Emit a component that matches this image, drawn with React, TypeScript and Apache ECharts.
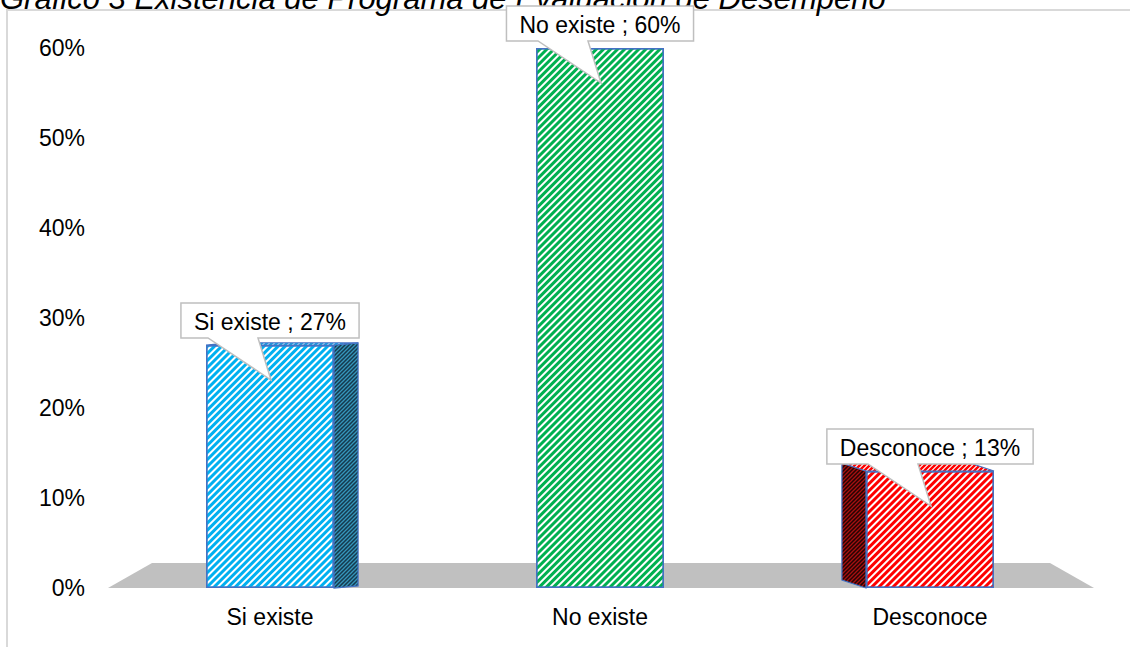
import React, { useEffect, useRef } from "react";
import * as echarts from "echarts";

const TITLE = "Gráfico 3 Existencia de Programa de Evaluación de Desempeño";
const categories = ["Si existe", "No existe", "Desconoce"];
const values = [27, 60, 13]; // percent
const stripeColors = ["#00b0f0", "#00b050", "#ff0000"];
const sideBase = ["#163a4e", "#14502c", "#240404"];
const sideStripe = ["#3596bb", "#2aa860", "#a81010"];
const yMin = 0;
const yMax = 60;
const yStep = 10;

const FONT = '"Liberation Sans", Arial, sans-serif';
const FS = 23;
const BAR_W = 128;
const EDGE = "#4472c4";

function measure(text: string, font: string): number {
  const c = document.createElement("canvas").getContext("2d");
  if (!c) return text.length * FS * 0.5;
  c.font = font;
  return c.measureText(text).width;
}

function stripePattern(bg: string, fg: string, n: number, lw: number): any {
  const cv = document.createElement("canvas");
  cv.width = n;
  cv.height = n;
  const ctx = cv.getContext("2d");
  if (!ctx) return bg;
  ctx.fillStyle = bg;
  ctx.fillRect(0, 0, n, n);
  ctx.strokeStyle = fg;
  ctx.lineWidth = lw;
  // lines x + y = c for c in {0, n, 2n}
  ctx.beginPath();
  for (let c = 0; c <= 2 * n; c += n) {
    ctx.moveTo(c + 2, -2);
    ctx.lineTo(c - n - 2, n + 2);
  }
  ctx.stroke();
  return { image: cv, repeat: "repeat", imageWidth: n, imageHeight: n };
}

export default function App() {
  const ref = useRef<HTMLDivElement>(null);
  useEffect(() => {
    document.body.style.margin = "0";
    if (!ref.current) return;
    const chart = echarts.init(ref.current, null, { renderer: "svg" });
    const data3 = values.map((v, i) => [i, v]);
    const sidePatterns = values.map((_, i) => stripePattern(sideBase[i], sideStripe[i], 4, 1.3));
    const topPatterns = values.map((_, i) => stripePattern("#ffffff", stripeColors[i], 5, 2.4));

    const option: any = {
      animation: false,
      backgroundColor: "#ffffff",
      aria: { enabled: true, label: { enabled: false }, decal: { show: true } },
      grid: { left: 105, right: 35, top: 48, bottom: 59, containLabel: false },
      xAxis: {
        type: "category",
        data: categories,
        axisLine: { show: false },
        axisTick: { show: false },
        axisLabel: { fontSize: FS, color: "#000", fontFamily: FONT, margin: 17 },
        splitLine: { show: false },
      },
      yAxis: {
        type: "value",
        min: yMin,
        max: yMax,
        interval: yStep,
        axisLine: { show: false },
        axisTick: { show: false },
        splitLine: { show: false },
        axisLabel: {
          fontSize: FS,
          color: "#000",
          fontFamily: FONT,
          margin: 20,
          formatter: (v: number) => `${v}%`,
        },
      },
      graphic: [
        {
          type: "rect",
          z: -10,
          shape: { x: 7, y: 10, width: 1300, height: 800 },
          style: { fill: "none", stroke: "#d9d9d9", lineWidth: 2 },
        },
        {
          type: "text",
          z: 0,
          x: 0,
          y: 14,
          style: {
            text: TITLE,
            font: `italic 31px ${FONT}`,
            fill: "#000",
            verticalAlign: "bottom",
          },
        },
      ],
      series: [
        {
          // floor
          type: "custom",
          z: 1,
          silent: true,
          data: [[0, 0]],
          renderItem: (params: any, api: any) => {
            const cs = params.coordSys;
            const yb = api.coord([0, 0])[1];
            const x0 = cs.x;
            const x1 = cs.x + cs.width;
            return {
              type: "polygon",
              shape: {
                points: [
                  [x0 + 3, yb],
                  [x0 + 47, yb - 25],
                  [x1 - 45, yb - 25],
                  [x1 - 1, yb],
                ],
              },
              style: { fill: "#c0c0c0", stroke: "none" },
            };
          },
        },
        {
          // 3D side and top faces
          type: "custom",
          z: 2,
          silent: true,
          data: data3,
          encode: { x: 0, y: 1 },
          renderItem: (params: any, api: any) => {
            const i = api.value(0);
            const v = api.value(1);
            const cs = params.coordSys;
            const midX = cs.x + cs.width / 2;
            const [cx, top] = api.coord([i, v]);
            const bottom = api.coord([i, 0])[1];
            const hw = BAR_W / 2;
            const dx = -(cx - midX) * 0.073;
            const dy = -5 - (cx - midX) * 0.009;
            if (Math.abs(dx) < 2) return { type: "group", children: [] };
            const sx = dx > 0 ? cx + hw : cx - hw;
            return {
              type: "group",
              children: [
                {
                  type: "polygon",
                  shape: {
                    points: [
                      [sx, top],
                      [sx + dx, top + dy],
                      [sx + dx, bottom + dy],
                      [sx, bottom],
                    ],
                  },
                  style: { fill: sidePatterns[i], stroke: EDGE, lineWidth: 1.2 },
                },
                {
                  type: "polygon",
                  shape: {
                    points: [
                      [cx - hw, top],
                      [cx + hw, top],
                      [cx + hw + dx, top + dy],
                      [cx - hw + dx, top + dy],
                    ],
                  },
                  style: { fill: topPatterns[i], stroke: EDGE, lineWidth: 1.2 },
                },
              ],
            };
          },
        },
        {
          type: "bar",
          z: 3,
          barWidth: BAR_W,
          data: values.map((v, i) => ({
            value: v,
            itemStyle: {
              color: "#ffffff",
              borderColor: EDGE,
              borderWidth: 1.5,
              decal: {
                symbol: "rect",
                symbolSize: 1,
                dashArrayX: [1, 0],
                dashArrayY: [3, 2],
                rotation: -Math.PI / 4,
                color: stripeColors[i],
              },
            },
          })),
        },
        {
          // callout labels
          type: "custom",
          z: 10,
          silent: true,
          data: data3,
          encode: { x: 0, y: 1 },
          renderItem: (params: any, api: any) => {
            const i = api.value(0);
            const v = api.value(1);
            const [cx, top] = api.coord([i, v]);
            const text = `${categories[i]} ; ${v}%`;
            const tw = measure(text, `${FS}px ${FONT}`);
            const w = tw + 26;
            const h = 35;
            const B = top - 7;
            const T = B - h;
            const L = cx - w / 2;
            const R = cx + w / 2;
            return {
              type: "group",
              children: [
                {
                  type: "polygon",
                  shape: {
                    points: [
                      [L, T],
                      [R, T],
                      [R, B],
                      [cx - 12, B],
                      [cx + 1, top + 35],
                      [cx - 62, B],
                      [L, B],
                    ],
                  },
                  style: { fill: "#ffffff", stroke: "#bfbfbf", lineWidth: 1.5 },
                },
                {
                  type: "text",
                  style: {
                    text,
                    x: cx,
                    y: T + h / 2 + 1,
                    align: "center",
                    verticalAlign: "middle",
                    fontSize: FS,
                    fontFamily: FONT,
                    fill: "#000",
                  },
                },
              ],
            };
          },
        },
      ],
    };
    chart.setOption(option);
    return () => chart.dispose();
  }, []);
  return <div ref={ref} style={{ width: 1130, height: 647 }} />;
}
